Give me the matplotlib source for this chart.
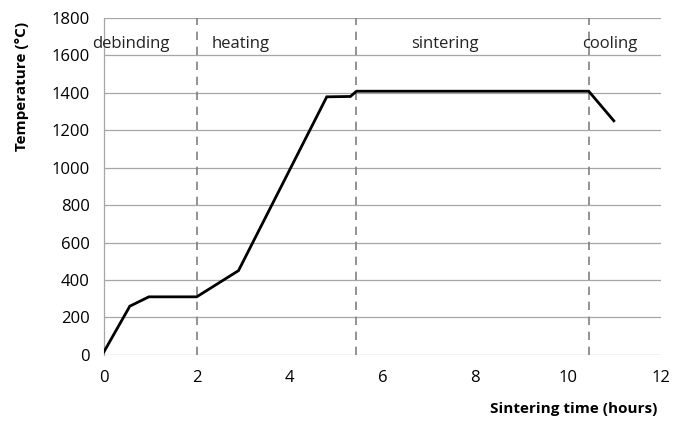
import matplotlib
matplotlib.use("Agg")
import matplotlib.pyplot as plt

time_h = [0.0, 0.56, 0.97, 2.0, 2.9, 4.8, 5.31, 5.44, 10.44, 10.98]
temp_c = [15, 260, 310, 310, 450, 1378, 1380, 1408, 1408, 1250]
phase_bounds = [2.0, 5.43, 10.44]
phase_names = ["debinding", "heating", "sintering", "cooling"]
phase_label_x = [0.58, 2.95, 7.35, 10.9]
x_ticks = [0, 2, 4, 6, 8, 10, 12]
y_ticks = list(range(0, 1801, 200))

plt.rcParams['font.family'] = ['Open Sans', 'DejaVu Sans']
fig = plt.figure(figsize=(6.74, 4.24), dpi=100)
ax = fig.add_axes([0.154, 0.163, 0.827, 0.795])

for yt in y_ticks:
    ax.axhline(yt, color="#a6a6a6", lw=0.9, zorder=0)
for xb in phase_bounds:
    ax.axvline(xb, color="#808080", lw=1.2, ls=(0, (5, 4)), zorder=1)

ax.plot(time_h, temp_c, color="black", lw=2.0, zorder=3, solid_joinstyle="miter")

for name, xl in zip(phase_names, phase_label_x):
    ax.text(xl, 1660, name, ha="center", va="center", fontsize=12,
            color="#222222", clip_on=False)

ax.set_xlim(0, 12)
ax.set_ylim(0, 1800)
ax.set_xticks(x_ticks)
ax.set_yticks(y_ticks)
ax.tick_params(axis="y", length=0, labelsize=12, pad=10)
ax.tick_params(axis="x", length=0, labelsize=12, pad=11)
for s in ["top", "right", "bottom"]:
    ax.spines[s].set_visible(False)
ax.spines["left"].set_color("#a6a6a6")
ax.spines["left"].set_linewidth(0.9)

fig.text(0.975, 0.035, "Sintering time (hours)", ha="right", va="center",
         fontsize=11, fontweight="bold")
fig.text(0.033, 0.795, "Temperature (°C)", ha="center", va="center",
         rotation=90, fontsize=11, fontweight="bold")

fig.savefig("out.png", dpi=100)
